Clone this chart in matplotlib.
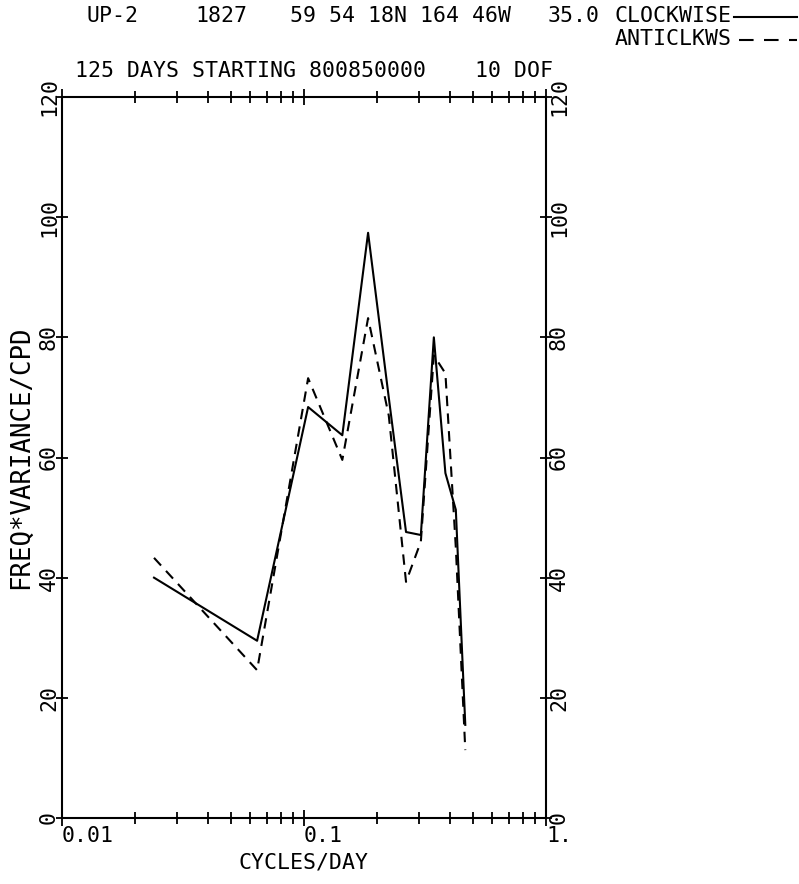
import matplotlib
matplotlib.use('Agg')
import matplotlib.pyplot as plt
from matplotlib.lines import Line2D
from matplotlib.ticker import LogLocator, NullFormatter, FixedLocator

# band-averaged rotary spectra, 125 days, 10 dof
freq = [0.024, 0.064, 0.104, 0.144, 0.184, 0.224, 0.264, 0.304, 0.344, 0.384, 0.424, 0.464]
clockwise = [40.0, 29.5, 68.4, 63.7, 97.4, 70.0, 47.6, 47.1, 80.0, 57.4, 51.3, 15.5]
anticlockwise = [43.3, 24.6, 73.2, 59.6, 83.2, 67.0, 39.3, 46.0, 77.0, 74.0, 45.0, 11.3]

xticks = [0.01, 0.1, 1]
xticklabels = ['0.01', '0.1', '1.']
yticks = [0, 20, 40, 60, 80, 100, 120]
yticklabels = ['0', '20', '40', '60', '80', '100', '120']

W, H = 799, 884
font = 'DejaVu Sans Mono'
fs = 15.5

plt.rcParams['font.family'] = font

fig = plt.figure(figsize=(W / 100, H / 100), dpi=100)
ax = fig.add_axes([62 / W, 66 / H, 484 / W, 721 / H])

ax.plot(freq, clockwise, color='k', lw=1.5)
ax.plot(freq, anticlockwise, color='k', lw=1.5, linestyle=(0, (5, 3.5)))

ax.set_xscale('log')
ax.set_xlim(0.01, 1)
ax.set_ylim(0, 120)

ax.xaxis.set_major_locator(FixedLocator(xticks))
ax.set_xticklabels(xticklabels, fontsize=fs)
ax.xaxis.set_minor_locator(LogLocator(base=10, subs=range(2, 10)))
ax.xaxis.set_minor_formatter(NullFormatter())
ax.set_yticks(yticks)
ax.set_yticklabels(yticklabels, fontsize=fs)

ax.tick_params(which='both', direction='inout', top=True, right=True,
               labelright=True, width=1.3, color='k')
ax.tick_params(axis='x', which='major', length=11, pad=0)
ax.tick_params(axis='x', which='minor', length=8.6)
ax.tick_params(axis='y', which='major', length=8.6, pad=-2.2, labelrotation=90)

for t in ax.get_xticklabels():
    t.set_ha('left')
for t in ax.yaxis.get_major_ticks():
    t.label1.set_va('center')
    t.label2.set_va('center')

for s in ax.spines.values():
    s.set_linewidth(1.5)

ax.set_xlabel('CYCLES/DAY', fontsize=fs)
ax.xaxis.set_label_coords(0.5, -0.048)
ax.set_ylabel('FREQ*VARIANCE/CPD', fontsize=18.5)
ax.yaxis.set_label_coords(-0.058, 0.5)


def ftext(x, y, s, **kw):
    fig.text(x / W, 1 - y / H, s, fontsize=fs, va='center', ha='left', **kw)


# header
ftext(86, 16, 'UP-2')
ftext(195, 16, '1827')
ftext(290, 16, '59 54 18N 164 46W')
ftext(548, 16, '35.0')
ftext(615, 16, 'CLOCKWISE')
ftext(615, 39, 'ANTICLKWS')
ftext(75, 71, '125 DAYS STARTING 800850000')
ftext(475, 71, '10 DOF')

fig.add_artist(Line2D([734 / W, 797 / W], [1 - 17 / H] * 2, color='k', lw=1.5,
                      transform=fig.transFigure))
fig.add_artist(Line2D([739 / W, 797 / W], [1 - 40 / H] * 2, color='k', lw=1.5,
                      linestyle=(0, (7, 5)), transform=fig.transFigure))

fig.savefig('out.png', dpi=100)
